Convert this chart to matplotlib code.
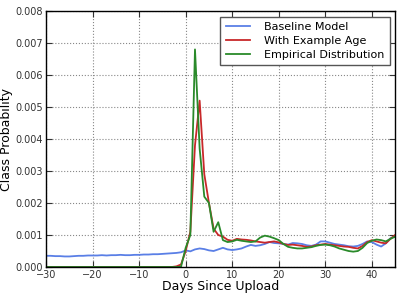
import numpy as np
import matplotlib
matplotlib.use("Agg")
import matplotlib.pyplot as plt

# days since upload, one point per day
days = list(range(-30, 46))

baseline = [0.00035, 0.00035, 0.00034, 0.00034, 0.00033, 0.00033, 0.00034, 0.00035, 0.00035, 0.00036,
            0.00036, 0.00036, 0.00037, 0.00036, 0.00037, 0.00037, 0.00038, 0.00037, 0.00037, 0.00038,
            0.00038, 0.00039, 0.00039, 0.00040, 0.00040, 0.00041, 0.00042, 0.00043, 0.00044, 0.00046,
            0.00052, 0.00049, 0.00055, 0.00058, 0.00056, 0.00052, 0.00050, 0.00055, 0.00060, 0.00055,
            0.00053, 0.00055, 0.00058, 0.00064, 0.00069, 0.00066, 0.00068, 0.00072, 0.00078, 0.00075,
            0.00074, 0.00072, 0.00070, 0.00075, 0.00074, 0.00072, 0.00068, 0.00066, 0.00070, 0.00080,
            0.00080, 0.00076, 0.00072, 0.00070, 0.00068, 0.00065, 0.00064, 0.00066, 0.00072, 0.00080,
            0.00078, 0.00070, 0.00064, 0.00074, 0.00090, 0.00095]

with_age = [0, 0, 0, 0, 0, 0, 0, 0, 0, 0,
            0, 0, 0, 0, 0, 0, 0, 0, 0, 0,
            0, 0, 0, 0, 0, 0, 0, 0, 0.00002, 0.00008,
            0.00050, 0.00110, 0.00380, 0.00520, 0.00290, 0.00200, 0.00120, 0.00100, 0.00095, 0.00085,
            0.00082, 0.00088, 0.00086, 0.00085, 0.00083, 0.00080, 0.00078, 0.00076, 0.00078, 0.00080,
            0.00077, 0.00072, 0.00069, 0.00070, 0.00068, 0.00066, 0.00063, 0.00064, 0.00068, 0.00070,
            0.00072, 0.00070, 0.00068, 0.00066, 0.00064, 0.00063, 0.00060, 0.00058, 0.00066, 0.00078,
            0.00084, 0.00080, 0.00076, 0.00074, 0.00088, 0.00100]

empirical = [0, 0, 0, 0, 0, 0, 0, 0, 0, 0,
             0, 0, 0, 0, 0, 0, 0, 0, 0, 0,
             0, 0, 0, 0, 0, 0, 0, 0, 0, 0.00001,
             0.00060, 0.00100, 0.00680, 0.00370, 0.00220, 0.00200, 0.00110, 0.00140, 0.00084, 0.00078,
             0.00080, 0.00085, 0.00082, 0.00080, 0.00078, 0.00080, 0.00092, 0.00098, 0.00095, 0.00090,
             0.00084, 0.00072, 0.00063, 0.00060, 0.00058, 0.00058, 0.00060, 0.00062, 0.00066, 0.00069,
             0.00070, 0.00068, 0.00064, 0.00058, 0.00054, 0.00050, 0.00048, 0.00050, 0.00060, 0.00075,
             0.00082, 0.00086, 0.00084, 0.00080, 0.00088, 0.00095]

fig = plt.figure(figsize=(4.04, 2.98), dpi=100)
ax = fig.add_axes([0.114, 0.104, 0.864, 0.859])

ax.plot(days, baseline, color="#5a7fe6", lw=1.3, label="Baseline Model")
ax.plot(days, with_age, color="#c8282a", lw=1.3, label="With Example Age")
ax.plot(days, empirical, color="#2a8a2a", lw=1.3, label="Empirical Distribution")

ax.set_xlim(-30, 45)
ax.set_ylim(0, 0.008)
ax.set_xticks([-30, -20, -10, 0, 10, 20, 30, 40])
ax.set_xticklabels(["\u221230", "\u221220", "\u221210", "0", "10", "20", "30", "40"])
ax.set_yticks(np.arange(0, 0.0081, 0.001))
ax.yaxis.set_major_formatter(matplotlib.ticker.FormatStrFormatter("%.3f"))
ax.tick_params(direction="in", top=True, right=True, labelsize=7, length=4, pad=2, colors="#333333")
ax.grid(True, linestyle=":", color="#888888", lw=0.8)

ax.set_xlabel("Days Since Upload", fontsize=9, labelpad=0)
ax.set_ylabel("Class Probability", fontsize=9, labelpad=2)

leg = ax.legend(loc="upper right", fontsize=8, fancybox=False, framealpha=1,
                edgecolor="#555555", borderpad=0.5, handlelength=2.2, handletextpad=1.2,
                labelspacing=0.35, borderaxespad=0.5)
leg.get_frame().set_linewidth(1.0)

for s in ax.spines.values():
    s.set_linewidth(1.0)

fig.savefig("out.png", dpi=100)
